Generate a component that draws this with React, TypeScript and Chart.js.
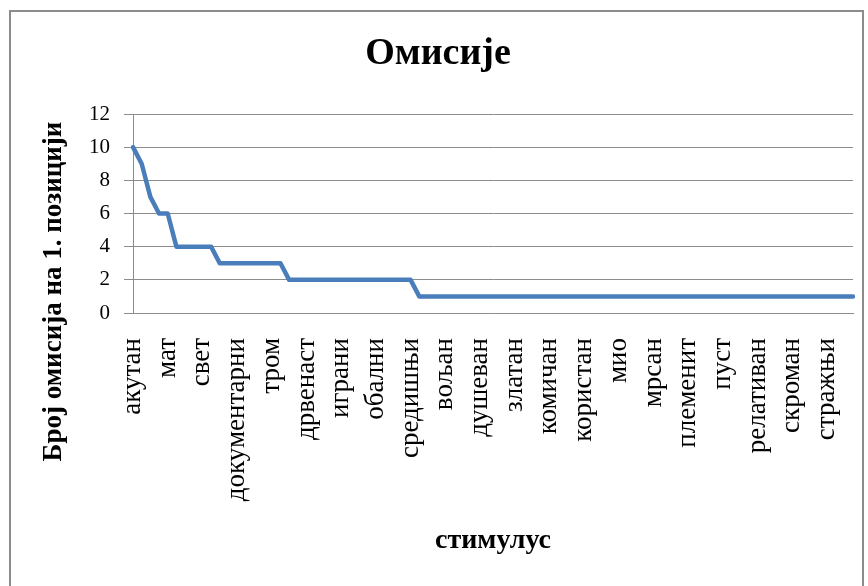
import React, { useEffect, useRef } from 'react';
import { Chart, registerables } from 'chart.js';

Chart.register(...registerables);

const chartTitle = 'Омисије';
const yAxisTitle = 'Број омисија на 1. позицији';
const xAxisTitle = 'стимулус';

// Every 4th category label is shown on the axis (as in the reference)
const shownLabels = [
  'акутан', 'мат', 'свет', 'документарни', 'тром', 'дрвенаст', 'играни',
  'обални', 'средишњи', 'вољан', 'душеван', 'златан', 'комичан', 'користан',
  'мио', 'мрсан', 'племенит', 'пуст', 'релативан', 'скроман', 'стражњи',
];
const labelEvery = 4;

// Number of omissions per stimulus (84 stimuli)
const omissions = [
  10, 9, 7, 6, 6,
  4, 4, 4, 4, 4,
  3, 3, 3, 3, 3, 3, 3, 3,
  2, 2, 2, 2, 2, 2, 2, 2, 2, 2, 2, 2, 2, 2, 2,
  1, 1, 1, 1, 1, 1, 1, 1, 1, 1, 1, 1, 1, 1, 1, 1, 1,
  1, 1, 1, 1, 1, 1, 1, 1, 1, 1, 1, 1, 1, 1, 1, 1, 1,
  1, 1, 1, 1, 1, 1, 1, 1, 1, 1, 1, 1, 1, 1, 1, 1, 1,
];

const yTicks = [0, 2, 4, 6, 8, 10, 12];

const SERIF = '"Liberation Serif", "Times New Roman", serif';
const GRID = '#8c8c8c';

export default function App() {
  const ref = useRef<HTMLCanvasElement>(null);

  useEffect(() => {
    const canvas = ref.current;
    if (!canvas) return;
    const categories = omissions.map((_, i) =>
      i % labelEvery === 0 ? shownLabels[i / labelEvery] ?? '' : ''
    );

    const yTitlePlugin = {
      id: 'yTitleOffset',
      afterDraw(chart: any) {
        const ctx = chart.ctx;
        ctx.save();
        ctx.translate(31, 291.5);
        ctx.rotate(-Math.PI / 2);
        ctx.font = `bold 27px ${SERIF}`;
        ctx.fillStyle = '#000';
        ctx.textAlign = 'center';
        ctx.textBaseline = 'middle';
        ctx.fillText(yAxisTitle, 0, 0);
        ctx.restore();
      },
    };

    const chart = new Chart(canvas, {
      type: 'line',
      data: {
        labels: categories,
        datasets: [
          {
            data: omissions,
            borderColor: '#4a7ebb',
            borderWidth: 4.5,
            pointRadius: 0,
            tension: 0,
            fill: false,
            borderJoinStyle: 'round',
            borderCapStyle: 'round',
          },
        ],
      },
      options: {
        responsive: false,
        animation: false,
        devicePixelRatio: 1,
        layout: { padding: { left: 0, right: 15, top: 0, bottom: 0 } },
        plugins: {
          legend: { display: false },
          tooltip: { enabled: false },
          title: {
            display: true,
            text: chartTitle,
            color: '#000',
            font: { family: SERIF, size: 38, weight: 'bold' },
            padding: { top: 31.2, bottom: 37.2 },
          },
        },
        scales: {
          x: {
            type: 'category',
            offset: false,
            grid: { display: false, drawTicks: false },
            border: { display: true, color: GRID, width: 1 },
            ticks: {
              autoSkip: false,
              minRotation: 90,
              maxRotation: 90,
              padding: 25,
              color: '#000',
              font: { family: SERIF, size: 27 },
            },
            title: {
              display: true,
              text: xAxisTitle,
              color: '#000',
              font: { family: SERIF, size: 28, weight: 'bold' },
              padding: { top: 0, bottom: 28 },
            },
            afterFit: (s: any) => {
              s.height = 273;
              s.paddingLeft = 0;
              s.paddingRight = 0;
            },
          },
          y: {
            min: 0,
            max: 12,
            afterBuildTicks: (s: any) => {
              s.ticks = yTicks.map((v) => ({ value: v }));
            },
            ticks: {
              padding: 14,
              color: '#000',
              font: { family: SERIF, size: 21 },
            },
            grid: { color: GRID, tickLength: 9, lineWidth: 1 },
            border: { display: true, color: GRID, width: 1 },
            afterFit: (s: any) => {
              s.width = 110;
            },
          },
        },
      },
      plugins: [yTitlePlugin],
    } as any);

    return () => chart.destroy();
  }, []);

  return (
    <div
      style={{
        position: 'absolute',
        left: 0,
        top: 0,
        width: 868,
        height: 586,
        overflow: 'hidden',
        background: '#fff',
      }}
    >
      <div
        style={{
          position: 'absolute',
          left: 9,
          top: 10,
          width: 855,
          height: 600,
          border: '2px solid #8c8c8c',
          boxSizing: 'border-box',
        }}
      />
      <canvas
        ref={ref}
        width={845}
        height={586}
        style={{ position: 'absolute', left: 23, top: 0 }}
      />
    </div>
  );
}
